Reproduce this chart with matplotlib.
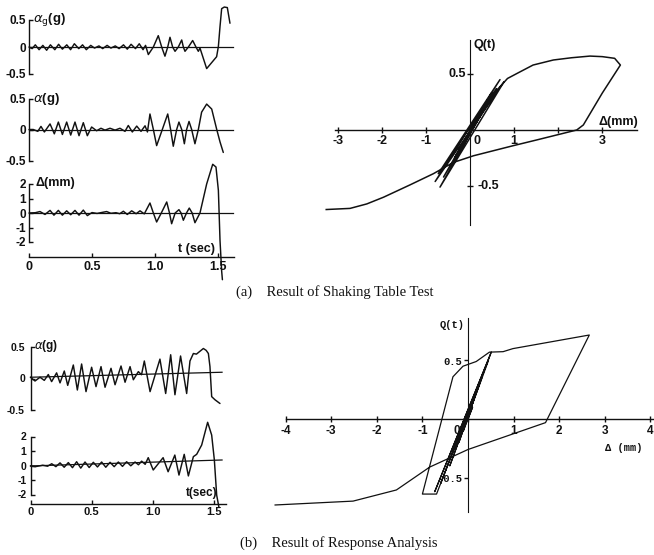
import matplotlib
matplotlib.use("Agg")
import matplotlib.pyplot as plt

# ---------------- data ----------------
# (a) shaking table test: table acceleration alpha_g (g)
a1_t = [0.00, 0.025, 0.05, 0.08, 0.11, 0.14, 0.17, 0.205, 0.235, 0.265, 0.30, 0.33, 0.36, 0.395,
        0.425, 0.455, 0.49, 0.52, 0.555, 0.585, 0.62, 0.65, 0.685, 0.715, 0.75, 0.78, 0.81, 0.845,
        0.875, 0.905, 0.925, 0.947, 0.987, 1.026, 1.053, 1.079, 1.101, 1.119, 1.140, 1.159, 1.185,
        1.212, 1.225, 1.238, 1.265, 1.299, 1.325, 1.344, 1.357, 1.410, 1.489, 1.503, 1.516, 1.529,
        1.55, 1.574, 1.595]
a1_v = [0.00, -0.03, 0.04, -0.05, 0.03, -0.06, 0.04, -0.05, 0.05, -0.04, 0.04, -0.05, 0.06, -0.03,
        0.04, -0.05, 0.03, -0.02, 0.02, -0.03, 0.03, -0.02, 0.02, -0.03, 0.04, -0.04, 0.05, -0.03,
        0.06, -0.05, 0.03, -0.14, 0.0, 0.21, 0.0, -0.17, 0.0, 0.18, 0.0, -0.08, 0.0,
        0.13, 0.0, -0.08, 0.0, 0.12, 0.0, -0.08, -0.02, -0.40, -0.18, 0.01, 0.38, 0.71,
        0.74, 0.73, 0.44]

# (a) response acceleration alpha (g)
a2_t = [0.00, 0.034, 0.07, 0.095, 0.122, 0.167, 0.201, 0.233, 0.265, 0.299, 0.331, 0.365, 0.397,
        0.431, 0.463, 0.497, 0.537, 0.571, 0.603, 0.643, 0.683, 0.722, 0.762, 0.788, 0.820, 0.855,
        0.889, 0.921, 0.94, 0.960, 0.987, 1.013, 1.058, 1.101, 1.124, 1.145, 1.172, 1.19, 1.212,
        1.233, 1.251, 1.27, 1.291, 1.317, 1.344, 1.37, 1.41, 1.45, 1.49, 1.516, 1.542]
a2_v = [0.00, 0.0, -0.03, 0.05, -0.04, 0.09, -0.07, 0.12, -0.08, 0.12, -0.09, 0.12, -0.10,
        0.11, -0.10, 0.04, -0.02, 0.02, -0.01, 0.02, -0.01, 0.02, -0.03, 0.065, -0.04, 0.055,
        -0.03, 0.06, -0.04, 0.25, 0.0, -0.26, 0.0, 0.25, 0.0, -0.27, 0.0, 0.12, 0.0,
        -0.23, 0.0, 0.13, 0.0, -0.23, 0.0, 0.28, 0.41, 0.33, 0.0, -0.20, -0.37]

# (a) relative displacement Delta (mm)
a3_t = [0.00, 0.05, 0.087, 0.127, 0.167, 0.198, 0.233, 0.265, 0.299, 0.331, 0.365, 0.397, 0.431,
        0.463, 0.50, 0.54, 0.58, 0.616, 0.65, 0.69, 0.72, 0.749, 0.78, 0.815, 0.85, 0.881, 0.915,
        0.96, 0.987, 1.013, 1.05, 1.093, 1.115, 1.132, 1.16, 1.19, 1.207, 1.225, 1.25, 1.272,
        1.295, 1.317, 1.357, 1.41, 1.458, 1.484, 1.503, 1.516, 1.529, 1.535]
a3_v = [0.00, 0.02, 0.10, -0.10, 0.18, -0.15, 0.18, -0.15, 0.15, -0.12, 0.18, -0.15, 0.20,
        -0.18, 0.03, -0.03, 0.04, 0.10, -0.02, 0.02, -0.05, 0.12, -0.10, 0.15, -0.05, 0.15, -0.06,
        0.69, 0.0, -0.62, 0.0, 0.76, 0.0, -0.74, 0.0, 0.23, 0.0, -0.50, 0.0, 0.34,
        0.0, -0.67, 0.0, 2.0, 3.36, 3.17, 1.56, -1.9, -4.0, -4.6]

# zero lines of the (a) panels
a_base_t = [0.0, 1.62]
a_base_v = [0.0, 0.0]

# (b) response analysis: acceleration alpha (g)
b1_t = [0.00, 0.037, 0.078, 0.113, 0.146, 0.173, 0.214, 0.242, 0.277, 0.305, 0.351, 0.384, 0.419,
        0.455, 0.501, 0.537, 0.578, 0.611, 0.66, 0.693, 0.742, 0.775, 0.816, 0.843, 0.884, 0.91,
        0.933, 0.98, 1.061, 1.108, 1.149, 1.184, 1.23, 1.28, 1.307, 1.335, 1.36, 1.417, 1.44,
        1.458, 1.471, 1.485, 1.512, 1.553]
b1_v = [0.02, -0.04, 0.02, -0.03, 0.064, -0.05, 0.09, -0.07, 0.12, -0.11, 0.216, -0.184, 0.232,
        -0.21, 0.18, -0.13, 0.19, -0.14, 0.163, -0.10, 0.20, -0.06, 0.19, -0.02, 0.11, 0.06,
        0.28, -0.21, 0.31, -0.24, 0.38, -0.26, 0.36, -0.24, 0.28, 0.40, 0.39, 0.48, 0.45,
        0.40, 0.19, -0.29, -0.34, -0.40]
b1_base_t = [0.0, 1.57]
b1_base_v = [0.02, 0.10]

# (b) displacement Delta (mm)
b2_t = [0.00, 0.04, 0.10, 0.14, 0.174, 0.208, 0.242, 0.276, 0.31, 0.344, 0.378, 0.412, 0.447,
        0.481, 0.515, 0.549, 0.583, 0.617, 0.652, 0.686, 0.72, 0.754, 0.788, 0.822, 0.857, 0.885,
        0.911, 0.94, 0.965, 1.006, 1.087, 1.128, 1.183, 1.217, 1.26, 1.294, 1.335, 1.362, 1.403,
        1.452, 1.485, 1.507, 1.526, 1.545]
b2_v = [-0.03, -0.08, 0.02, -0.05, 0.12, -0.08, 0.18, -0.12, 0.20, -0.15, 0.26, -0.18, 0.24,
        -0.14, 0.22, -0.10, 0.24, -0.12, 0.22, -0.08, 0.24, -0.06, 0.26, -0.02, 0.24, 0.05,
        0.30, 0.08, 0.54, -0.31, 0.54, -0.43, 0.72, -0.66, 0.77, -0.72, 0.61, 0.77, 1.41,
        2.98, 2.1, 0.38, -2.04, -2.9]
b2_base_t = [0.0, 1.57]
b2_base_v = [-0.03, 0.38]

# hysteresis (a): Delta (mm) vs Q(t)
ha_d = [0.0, 0.10, -0.10, 0.15, -0.20, 0.12, -0.25, 0.20, -0.15, 0.30, -0.35, 0.25, -0.30, 0.49,
        -0.60, 0.60, -0.72, 0.68, -0.79, 0.77, -0.68, 0.45, -0.40, 0.20, 0.55, 0.85, 1.09, 1.43,
        1.89, 2.30, 2.72, 3.00, 3.28, 3.41, 3.00, 2.57, 2.42, 1.50, 0.98, 0.08, -0.38, -0.83,
        -1.36, -1.96, -2.34, -2.72, -3.26]
ha_q = [0.0, 0.05, -0.08, 0.08, -0.15, 0.06, -0.18, 0.12, -0.12, 0.18, -0.25, 0.15, -0.22, 0.33,
        -0.42, 0.37, -0.39, 0.45, -0.46, 0.43, -0.51, 0.28, -0.30, 0.10, 0.33, 0.46, 0.51, 0.58,
        0.625, 0.645, 0.66, 0.655, 0.64, 0.58, 0.33, 0.045, 0.0, -0.09, -0.14, -0.23, -0.29, -0.39,
        -0.49, -0.60, -0.66, -0.70, -0.71]

# hysteresis (b)
hb_d = [0.0, 0.10, -0.10, 0.20, -0.20, 0.30, -0.40, 0.45, -0.60, 0.50, -0.73, 0.51, -0.69, -1.00,
        -0.33, -0.11, 0.18, 0.47, 0.77, 0.985, 2.66, 1.70, 0.0, -0.84, -1.57, -2.52, -4.23]
hb_q = [0.0, 0.10, -0.10, 0.25, -0.20, 0.35, -0.40, 0.50, -0.55, 0.56, -0.62, 0.57, -0.64, -0.64,
        0.36, 0.45, 0.49, 0.57, 0.574, 0.60, 0.716, -0.031, -0.26, -0.41, -0.605, -0.70, -0.733]

time_ticks = [0, 0.5, 1.0, 1.5]
time_labels = ["0", "0.5", "1.0", "1.5"]
ha_xticks = [-3, -2, -1, 0, 1, 2, 3]
ha_xlabels = ["-3", "-2", "-1", "0", "1", "", "3"]
hb_xticks = [-4, -3, -2, -1, 0, 1, 2, 3, 4]
hb_xlabels = ["-4", "-3", "-2", "-1", "0", "1", "2", "3", "4"]

# ---------------- drawing ----------------
W, H = 654, 555
fig = plt.figure(figsize=(W / 100, H / 100), dpi=100)
fig.patch.set_facecolor("white")

SANS = ["Liberation Sans", "DejaVu Sans"]
SERIF = ["Liberation Serif", "DejaVu Serif"]
MONO = ["Liberation Mono", "DejaVu Sans Mono"]
INK = "#111111"


def make_axes(l, r, t, b, x0, sx, y0, sy):
    ax = fig.add_axes([l / W, 1 - b / H, (r - l) / W, (b - t) / H])
    ax.set_xlim((l - x0) / sx, (r - x0) / sx)
    ax.set_ylim((y0 - b) / sy, (y0 - t) / sy)
    ax.patch.set_visible(False)
    for s in ax.spines.values():
        s.set_visible(False)
    ax.set_xticks([])
    ax.set_yticks([])
    return ax


def yspine(ax, lo, hi, ticks, labels, size, pad=2, direction="in", length=3, lw=1.0):
    sp = ax.spines["left"]
    sp.set_visible(True)
    sp.set_position(("data", 0))
    sp.set_bounds(lo, hi)
    sp.set_linewidth(lw)
    sp.set_color(INK)
    ax.set_yticks(ticks)
    ax.set_yticklabels(labels, fontfamily=SANS, fontweight="bold", fontsize=size)
    ax.tick_params(axis="y", direction=direction, length=length, width=lw, pad=pad, colors=INK)


def xspine(ax, at, lo, hi, ticks, labels, size, pad=2, direction="in", length=3, lw=1.0):
    sp = ax.spines["bottom"]
    sp.set_visible(True)
    sp.set_position(("data", at))
    sp.set_bounds(lo, hi)
    sp.set_linewidth(lw)
    sp.set_color(INK)
    ax.set_xticks(ticks)
    ax.set_xticklabels(labels, fontfamily=SANS, fontweight="bold", fontsize=size)
    ax.tick_params(axis="x", direction=direction, length=length, width=lw, pad=pad, colors=INK)


def ftext(x, y, s, **kw):
    kw.setdefault("color", INK)
    fig.text(x / W, 1 - y / H, s, **kw)


LW = 1.05
CURVE = dict(color=INK, lw=LW, clip_on=False, solid_joinstyle="round", solid_capstyle="round")

# ---- (a) alpha_g
ax = make_axes(0, 245, 0, 88, 29, 126, 47, 54)
ax.plot(a_base_t, a_base_v, color=INK, lw=0.9, clip_on=False)
ax.plot(a1_t, a1_v, **CURVE)
yspine(ax, -0.5, 0.5, [-0.5, 0, 0.5], ["-0.5", "0", "0.5"], 8.5)
ftext(33, 20, r"$\alpha_{\rm g}$(g)", fontfamily=SANS, fontweight="bold", fontsize=9.5, va="center")

# ---- (a) alpha
ax = make_axes(0, 245, 88, 168, 29, 126, 129.5, 62)
ax.plot(a_base_t, a_base_v, color=INK, lw=0.9, clip_on=False)
ax.plot(a2_t, a2_v, **CURVE)
yspine(ax, -0.5, 0.5, [-0.5, 0, 0.5], ["-0.5", "0", "0.5"], 8.5)
ftext(33, 99, r"$\alpha$(g)", fontfamily=SANS, fontweight="bold", fontsize=9.5, va="center")

# ---- (a) Delta
ax = make_axes(0, 245, 168, 285, 29, 126, 213, 14.5)
ax.plot(a_base_t, a_base_v, color=INK, lw=0.9, clip_on=False)
ax.plot(a3_t, a3_v, **CURVE)
yspine(ax, -2, 2, [-2, -1, 0, 1, 2], ["-2", "-1", "0", "1", "2"], 8.5)
xspine(ax, (213 - 257) / 14.5, 0, 1.63, time_ticks, time_labels, 9, pad=3)
ftext(36, 183, "Δ(mm)", fontfamily=SANS, fontweight="bold", fontsize=9, va="center")
ftext(197, 249, "t (sec)", fontfamily=SANS, fontweight="bold", fontsize=9, va="center", ha="center")

# ---- (b) alpha
ax = make_axes(0, 245, 335, 418, 30.5, 122, 378.5, 62.5)
ax.plot(b1_base_t, b1_base_v, color=INK, lw=0.9, clip_on=False)
ax.plot(b1_t, b1_v, **CURVE)
yspine(ax, -0.5, 0.5, [-0.5, 0, 0.5], ["-0.5", "0", "0.5"], 7.5, pad=4)
ftext(34, 346, r"$\alpha$(g)", fontfamily=SANS, fontweight="bold", fontsize=8.5, va="center")

# ---- (b) Delta
ax = make_axes(0, 245, 418, 525, 30.5, 122, 465.5, 14.5)
ax.plot(b2_base_t, b2_base_v, color=INK, lw=0.9, clip_on=False)
ax.plot(b2_t, b2_v, **CURVE)
yspine(ax, -2, 2, [-2, -1, 0, 1, 2], ["-2", "-1", "0", "1", "2"], 7.5, pad=3)
xspine(ax, (465.5 - 504) / 14.5, 0, 1.6, time_ticks, time_labels, 8, pad=2)
ftext(202, 493, "t(sec)", fontfamily=SANS, fontweight="bold", fontsize=8.5, va="center", ha="center")

# ---- (a) hysteresis
ax = make_axes(325, 650, 30, 235, 470, 44.1, 130, 112)
ax.plot(ha_d, ha_q, color=INK, lw=1.1, clip_on=False, solid_joinstyle="round")
xspine(ax, 0, -3.07, 3.78, ha_xticks, [""] * len(ha_xticks), 8.5, direction="inout", length=5)
sp = ax.spines["left"]
sp.set_visible(True); sp.set_position(("data", 0)); sp.set_bounds(-0.85, 0.80); sp.set_color(INK)
ax.set_yticks([-0.5, 0.5]); ax.set_yticklabels(["", ""])
ax.tick_params(axis="y", direction="inout", length=5, width=1.0, colors=INK)
for xv, lab in zip(ha_xticks, ha_xlabels):
    xx = 0.17 if xv == 0 else xv
    ax.text(xx, -0.095, lab, ha="center", va="center", fontfamily=SANS, fontweight="bold", fontsize=9, color=INK)
ax.text(-0.29, 0.5, "0.5", ha="center", va="center", fontfamily=SANS, fontweight="bold", fontsize=9, color=INK)
ax.text(0.41, -0.5, "-0.5", ha="center", va="center", fontfamily=SANS, fontweight="bold", fontsize=9, color=INK)
ax.text(3.36, 0.075, "Δ(mm)", ha="center", va="center", fontfamily=SANS, fontweight="bold", fontsize=9, color=INK)
ftext(473, 45, "Q(t)", fontfamily=SANS, fontweight="bold", fontsize=9, va="center")

# ---- (b) hysteresis
ax = make_axes(270, 654, 310, 525, 468, 45.6, 419, 117.3)
ax.plot(hb_d, hb_q, color=INK, lw=0.9, clip_on=False, solid_joinstyle="round")
xspine(ax, 0, -4.0, 4.05, hb_xticks, [""] * len(hb_xticks), 8.5, direction="inout", length=5)
sp = ax.spines["left"]
sp.set_visible(True); sp.set_position(("data", 0)); sp.set_bounds(-0.79, 0.86); sp.set_color(INK)
ax.set_yticks([-0.5, 0.5]); ax.set_yticklabels(["", ""])
ax.tick_params(axis="y", direction="out", length=3, width=1.0, colors=INK)
for xv, lab in zip(hb_xticks, hb_xlabels):
    xx = -0.24 if xv == 0 else xv
    ax.text(xx, -0.10, lab, ha="center", va="center", fontfamily=SANS, fontweight="bold", fontsize=8.5, color=INK)
ax.text(-0.12, 0.49, "0.5", ha="right", va="center", fontfamily=MONO, fontweight="bold", fontsize=7.5, color=INK)
ax.text(-0.12, -0.51, "-0.5", ha="right", va="center", fontfamily=MONO, fontweight="bold", fontsize=7.5, color=INK)
ax.text(3.42, -0.25, "Δ (mm)", ha="center", va="center", fontfamily=MONO, fontweight="bold", fontsize=7.5, color=INK)
ftext(452, 325, "Q(t)", fontfamily=MONO, fontweight="bold", fontsize=7.5, va="center", ha="center")

# ---- captions
ftext(335, 292, "(a)    Result of Shaking Table Test", fontfamily=SERIF, fontsize=10.5, ha="center", va="center")
ftext(339, 543, "(b)    Result of Response Analysis", fontfamily=SERIF, fontsize=10.5, ha="center", va="center")

fig.savefig("out.png", dpi=100, facecolor="white")
